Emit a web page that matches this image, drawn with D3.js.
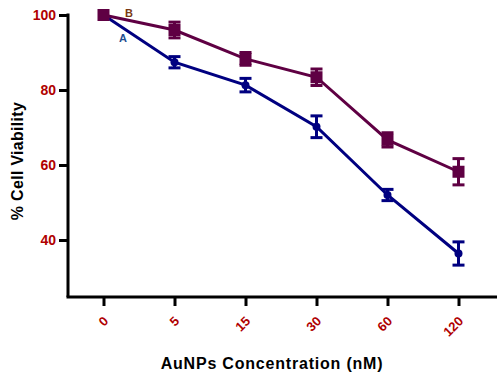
<!DOCTYPE html>
<html>
<head>
<meta charset="utf-8">
<script src="https://cdn.jsdelivr.net/npm/d3@7"></script>
<style>
  body { margin: 0; background: #fff; }
  svg { font-family: "Liberation Sans", Arial, sans-serif; }
</style>
</head>
<body>
<div id="chart"></div>
<script>
// concentrations (nM) shown as categories
const concentrations = ['0', '5', '15', '30', '60', '120'];
// series A (circles, navy)
const seriesA = [100, 87.4, 81.3, 70.2, 52.0, 36.4];
const errA = [0, 1.5, 1.8, 2.9, 1.5, 3.1];
// series B (squares, purple)
const seriesB = [100, 96.0, 88.3, 83.4, 66.7, 58.2];
const errB = [0, 2.1, 1.7, 2.2, 1.9, 3.5];
const yTicks = [40, 60, 80, 100];

const width = 500, height = 374;
const plot = { left: 68, right: 494, top: 15, bottom: 297 };

const svg = d3.select('#chart').append('svg')
    .attr('width', width)
    .attr('height', height);

const x = d3.scalePoint()
    .domain(concentrations)
    .range([plot.left, plot.right])
    .padding(0.5);

const y = d3.scaleLinear()
    .domain([24.8, 100])
    .range([plot.bottom, plot.top]);

const tickRed = '#b00000';

// y axis
const yAxis = svg.append('g')
    .attr('transform', `translate(${plot.left},0)`)
    .call(d3.axisLeft(y).tickValues(yTicks).tickSize(9).tickPadding(3).tickSizeOuter(0));
yAxis.select('.domain').attr('stroke-width', 3).attr('d', `M0,${plot.top - 1.5}V${plot.bottom}`);
yAxis.selectAll('.tick line').attr('stroke-width', 3);
yAxis.selectAll('.tick text')
    .attr('fill', tickRed)
    .style('font-size', '14px')
    .style('font-weight', 'bold');

// x axis
const xAxis = svg.append('g')
    .attr('transform', `translate(0,${plot.bottom})`)
    .call(d3.axisBottom(x).tickSize(9).tickSizeOuter(0));
xAxis.select('.domain').attr('stroke-width', 3).attr('d', `M${plot.left - 1.5},0H${plot.right + 3}`);
xAxis.selectAll('.tick line').attr('stroke-width', 3);
xAxis.selectAll('.tick text')
    .attr('fill', tickRed)
    .style('font-size', '13px')
    .style('font-weight', 'bold')
    .attr('text-anchor', 'end')
    .attr('y', 0)
    .attr('dy', 0)
    .attr('transform', 'translate(5,25) rotate(-45)');

// axis titles
svg.append('text')
    .attr('transform', `translate(23,${161}) rotate(-90)`)
    .attr('text-anchor', 'middle')
    .style('font-size', '16px')
    .style('font-weight', 'bold')
    .style('letter-spacing', '0.3px')
    .text('% Cell Viability');

svg.append('text')
    .attr('x', 272)
    .attr('y', 369)
    .attr('text-anchor', 'middle')
    .style('font-size', '16px')
    .style('font-weight', 'bold')
    .style('letter-spacing', '0.8px')
    .text('AuNPs Concentration (nM)');

const line = d3.line()
    .x((d, i) => x(concentrations[i]))
    .y(d => y(d));

function drawSeries(values, errs, color, marker) {
    const g = svg.append('g');
    g.append('path')
        .datum(values)
        .attr('d', line)
        .attr('fill', 'none')
        .attr('stroke', color)
        .attr('stroke-width', 3);

    const bars = g.selectAll('.err')
        .data(values.map((v, i) => ({ v, e: errs[i], c: concentrations[i] })).filter(d => d.e > 0))
        .join('g');
    bars.append('line')
        .attr('x1', d => x(d.c)).attr('x2', d => x(d.c))
        .attr('y1', d => y(d.v + d.e)).attr('y2', d => y(d.v - d.e))
        .attr('stroke', color).attr('stroke-width', 3);
    bars.selectAll('.cap')
        .data(d => [{ c: d.c, yv: d.v + d.e }, { c: d.c, yv: d.v - d.e }])
        .join('line')
        .attr('x1', d => x(d.c) - 6).attr('x2', d => x(d.c) + 6)
        .attr('y1', d => y(d.yv)).attr('y2', d => y(d.yv))
        .attr('stroke', color).attr('stroke-width', 3);

    if (marker === 'square') {
        g.selectAll('rect')
            .data(values)
            .join('rect')
            .attr('x', (d, i) => x(concentrations[i]) - 6)
            .attr('y', d => y(d) - 6)
            .attr('width', 12)
            .attr('height', 12)
            .attr('fill', color);
    } else {
        g.selectAll('circle')
            .data(values)
            .join('circle')
            .attr('cx', (d, i) => x(concentrations[i]))
            .attr('cy', d => y(d))
            .attr('r', 4)
            .attr('fill', color);
    }
}

drawSeries(seriesA, errA, '#000080', 'circle');
drawSeries(seriesB, errB, '#5f0043', 'square');

// series labels
svg.append('text')
    .attr('x', 125).attr('y', 17)
    .attr('fill', '#7a3a12')
    .style('font-size', '11px').style('font-weight', 'bold')
    .text('B');
svg.append('text')
    .attr('x', 119).attr('y', 42)
    .attr('fill', '#1f4f8f')
    .style('font-size', '11px').style('font-weight', 'bold')
    .text('A');
</script>
</body>
</html>
